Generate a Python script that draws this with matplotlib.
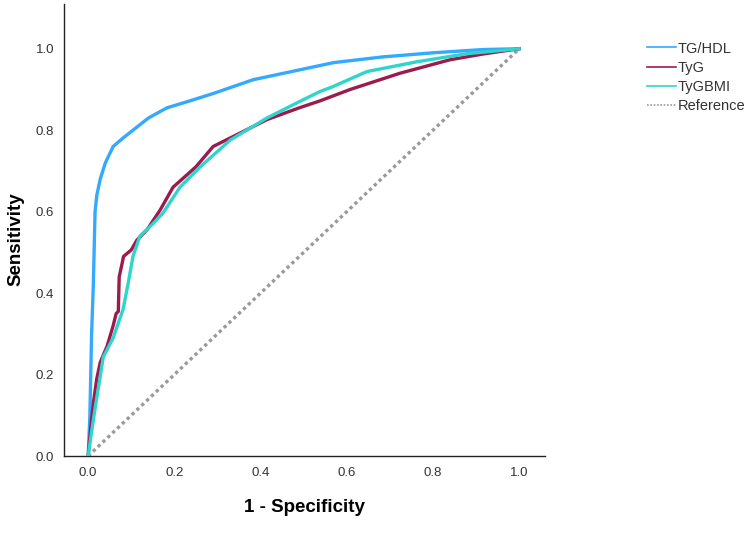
import numpy as np
import matplotlib.pyplot as plt

plt.rcParams['font.family'] = ['Liberation Sans', 'DejaVu Sans']

# ROC curve points (1 - specificity, sensitivity)
tghdl_fpr = [0.0, 0.004, 0.008, 0.012, 0.016, 0.02, 0.028, 0.04, 0.058, 0.08, 0.104, 0.14, 0.183, 0.23, 0.29, 0.383, 0.49, 0.57, 0.684, 0.80, 0.916, 1.0]
tghdl_tpr = [0.0, 0.1, 0.3, 0.42, 0.6, 0.64, 0.68, 0.72, 0.76, 0.78, 0.80, 0.83, 0.855, 0.87, 0.89, 0.924, 0.948, 0.966, 0.98, 0.99, 0.998, 1.0]

tyg_fpr = [0.0, 0.006, 0.012, 0.02, 0.028, 0.044, 0.058, 0.065, 0.07, 0.072, 0.079, 0.082, 0.10, 0.113, 0.137, 0.167, 0.197, 0.25, 0.29, 0.415, 0.49, 0.538, 0.608, 0.724, 0.84, 0.916, 1.0]
tyg_tpr = [0.0, 0.07, 0.13, 0.19, 0.23, 0.27, 0.32, 0.35, 0.355, 0.44, 0.474, 0.49, 0.506, 0.53, 0.556, 0.604, 0.66, 0.71, 0.76, 0.826, 0.855, 0.872, 0.90, 0.94, 0.973, 0.987, 1.0]

tygbmi_fpr = [0.0, 0.008, 0.018, 0.028, 0.035, 0.058, 0.081, 0.093, 0.104, 0.12, 0.15, 0.174, 0.213, 0.26, 0.33, 0.415, 0.49, 0.538, 0.568, 0.647, 0.763, 0.88, 1.0]
tygbmi_tpr = [0.0, 0.06, 0.13, 0.195, 0.243, 0.29, 0.36, 0.425, 0.49, 0.54, 0.57, 0.597, 0.66, 0.71, 0.776, 0.83, 0.87, 0.895, 0.907, 0.944, 0.968, 0.988, 1.0]

ref_x = [0.0, 1.0]
ref_y = [0.0, 1.0]

fig = plt.figure(figsize=(7.47, 5.46), dpi=100)
ax = fig.add_axes([0.0857, 0.1648, 0.6439, 0.828])

ax.plot(tghdl_fpr, tghdl_tpr, color='#33aaff', lw=2.4, label='TG/HDL', zorder=3)
ax.plot(tyg_fpr, tyg_tpr, color='#9c1b4f', lw=2.4, label='TyG', zorder=3)
ax.plot(tygbmi_fpr, tygbmi_tpr, color='#2fd4cc', lw=2.4, label='TyGBMI', zorder=4)
ax.plot(ref_x, ref_y, color='#9a9a9a', lw=2.4, ls=(0, (1, 1)), label='Reference', zorder=2)

ax.set_xlim(-0.056, 1.06)
ax.set_ylim(0, 1.11)
ax.set_xticks(np.arange(0, 1.01, 0.2))
ax.set_yticks(np.arange(0, 1.01, 0.2))
ax.xaxis.set_major_formatter(plt.FormatStrFormatter('%.1f'))
ax.yaxis.set_major_formatter(plt.FormatStrFormatter('%.1f'))
ax.tick_params(length=0, labelsize=9.5, labelcolor='#333333', pad=8)
ax.tick_params(axis='y', pad=7)

for s in ['top', 'right']:
    ax.spines[s].set_visible(False)
for s in ['left', 'bottom']:
    ax.spines[s].set_color('#222222')
    ax.spines[s].set_linewidth(1.0)

ax.set_xlabel('1 - Specificity', fontsize=13.5, fontweight='bold')
ax.set_ylabel('Sensitivity', fontsize=13.5, fontweight='bold')
ax.xaxis.set_label_coords(0.5, -0.095)
ax.yaxis.set_label_coords(-0.083, 0.48)

handles, labels = ax.get_legend_handles_labels()
leg = fig.legend(handles, labels, loc='upper left', bbox_to_anchor=(0.848, 0.948), frameon=False,
                 fontsize=10.5, handlelength=2.0, handletextpad=0.15, labelspacing=0.35, labelcolor='#333333')
for h in leg.get_lines():
    h.set_linewidth(1.2)

fig.savefig('out.png', dpi=100)
